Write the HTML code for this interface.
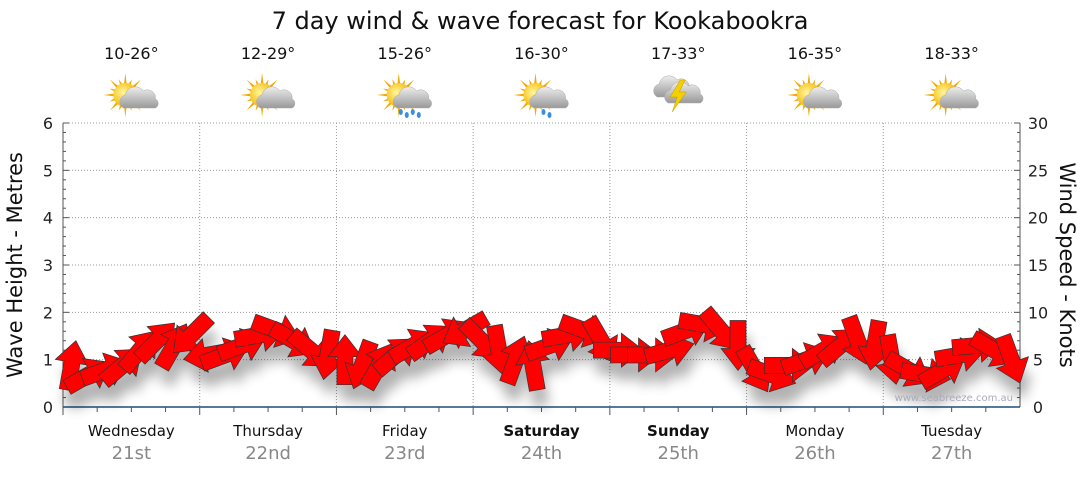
<!DOCTYPE html>
<html><head><meta charset="utf-8"><style>
body{margin:0;background:#fff;font-family:"Liberation Sans",sans-serif;}
svg text{font-family:"DejaVu Sans","Liberation Sans",sans-serif;}
</style></head><body>
<svg id="c" width="1080" height="475" xmlns="http://www.w3.org/2000/svg">
<defs>
<filter id="sh" x="-50%" y="-50%" width="200%" height="200%"><feGaussianBlur stdDeviation="6"/></filter>
<radialGradient id="sun" cx="0.4" cy="0.4" r="0.6"><stop offset="0" stop-color="#fff6a0"/><stop offset="1" stop-color="#f5b800"/></radialGradient>
<linearGradient id="cl" x1="0" y1="0" x2="0" y2="1"><stop offset="0" stop-color="#eee"/><stop offset="1" stop-color="#999"/></linearGradient>
</defs>
<text x="540" y="29" text-anchor="middle" font-size="24" fill="#111">7 day wind &amp; wave forecast for Kookabookra</text>
<g id="grid"></g><g id="axes"></g><g id="icons"></g>
<g id="shadows" filter="url(#sh)" opacity="0.3"></g><g id="arrows"></g>
<text x="1013" y="401" text-anchor="end" font-size="10" fill="#aab">www.seabreeze.com.au</text>
<text transform="translate(22,265) rotate(-90)" text-anchor="middle" font-size="21" fill="#111">Wave Height - Metres</text>
<text transform="translate(1060,265) rotate(90)" text-anchor="middle" font-size="21" fill="#111">Wind Speed - Knots</text>
</svg>
<script>
const days=["Wednesday","Thursday","Friday","Saturday","Sunday","Monday","Tuesday"];
const dates=["21st","22nd","23rd","24th","25th","26th","27th"];
const temps=["10-26°","12-29°","15-26°","16-30°","17-33°","16-35°","18-33°"];
const icons=["partly","partly","rain","partlyrain","storm","partly","partly"];
const waveTicks=[0,1,2,3,4,5,6];
const windTicks=[0,5,10,15,20,25,30];
const windSpeed=[4.4,3.4,3.9,4.4,6.0,7.0,6.5,7.6, 5.5,5.5,6.5,7.6,8.1,7.0,6.0,5.5, 5.0,4.4,4.4,5.5,6.5,7.0,7.6,8.1, 7.0,6.0,5.0,4.4,6.5,7.6,8.1,7.0, 6.0,5.5,5.5,6.0,8.1,8.7,8.1,6.5, 3.9,3.4,4.4,5.0,6.0,6.5,7.0,6.5, 5.0,3.9,3.4,3.9,5.5,6.5,6.0,5.0];
const windDir=[-80,-30,-20,-40,-50,-45,-60,135, 170,-20,-20,-10,20,30,40,100, -90,110,-60,-40,-30,-35,-30,150, 45,80,-70,-100,-20,-10,20,60, 0,0,0,-15,-20,10,50,90, 60,20,0,-20,-30,-40,70,100, 80,30,10,-30,-10,-5,30,70];
const X0=63,X1=1020,Y0=407,Y1=123,NS="http://www.w3.org/2000/svg";
const dayW=(X1-X0)/7;
const yWave=v=>Y0-(v/6)*(Y0-Y1), yWind=v=>Y0-(v/30)*(Y0-Y1);
const xIdx=i=>X0+(i+0.5)*dayW/8;
function mk(t,a,p){const e=document.createElementNS(NS,t);for(const k in a)e.setAttribute(k,a[k]);(p||document.getElementById('c')).appendChild(e);return e;}
const grid=document.getElementById('grid'),axes=document.getElementById('axes');
waveTicks.forEach(v=>{if(v>0){const l=mk('line',{x1:X0,x2:X1,y1:yWave(v),y2:yWave(v),stroke:'#999','stroke-dasharray':'1,2'},grid);

}
const t=mk('text',{x:48,y:yWave(v)+6,'text-anchor':'middle','font-size':16,fill:'#222'},axes);t.textContent=v;

});
windTicks.forEach(v=>{const t=mk('text',{x:1038,y:yWind(v)+6,'text-anchor':'middle','font-size':16,fill:'#222'},axes);t.textContent=v;

});
for(let i=0;i<=30;i++){const y=Y0-i*(Y0-Y1)/30,w=i%5==0?6:3;mk('line',{x1:X0,x2:X0+w,y1:y,y2:y,stroke:'#555'},axes);mk('line',{x1:X1,x2:X1-w,y1:y,y2:y,stroke:'#555'},axes);}
mk('line',{x1:X0,x2:X0,y1:Y1,y2:Y0,stroke:'#555'},axes);mk('line',{x1:X1,x2:X1,y1:Y1,y2:Y0,stroke:'#555'},axes);
mk('line',{x1:X0,x2:X1,y1:Y0,y2:Y0,stroke:'#1a4f7a','stroke-width':1.5},axes);
for(let d=0;d<=7;d++){const x=X0+d*dayW;if(d>0&&d<7)mk('line',{x1:x,x2:x,y1:Y1,y2:Y0,stroke:'#999','stroke-dasharray':'1,2'},grid);
for(let q=0;q<4&&d<7;q++)mk('line',{x1:x+q*dayW/4,x2:x+q*dayW/4,y1:Y0,y2:Y0+(q==0?8:5),stroke:'#555'},axes);}
const icg=document.getElementById('icons');
function sunIcon(g,cx,cy){for(let k=0;k<16;k++){const a=k*Math.PI/8,r=k%2?17:22;mk('polygon',{points:`${cx+Math.cos(a)*r},${cy+Math.sin(a)*r} ${cx+Math.cos(a+0.15)*10},${cy+Math.sin(a+0.15)*10} ${cx+Math.cos(a-0.15)*10},${cy+Math.sin(a-0.15)*10}`,fill:'#f2a900'},g);}mk('circle',{cx,cy,r:12,fill:'url(#sun)'},g);}
function cloud(g,cx,cy,s){mk('path',{d:`M${cx-16*s},${cy+9*s} a7,7 0 0 1 2,-13 a10,10 0 0 1 18,-4 a8,8 0 0 1 12,8 a5,5 0 0 1 0,9 z`,fill:'url(#cl)',stroke:'#aaa','stroke-width':0.5},g);}
days.forEach((d,i)=>{const cx=X0+(i+0.5)*dayW;
const dn=mk('text',{x:cx,y:436,'text-anchor':'middle','font-size':15,fill:'#111','font-weight':(i==3||i==4)?'bold':'normal'});dn.textContent=d;


const dt=mk('text',{x:cx,y:459,'text-anchor':'middle','font-size':18,fill:'#888'});dt.textContent=dates[i];


const tt=mk('text',{x:cx,y:59,'text-anchor':'middle','font-size':16,fill:'#111'});tt.textContent=temps[i];


const g=mk('g',{},icg);


if(icons[i]=='storm'){cloud(g,cx-5,88,1);cloud(g,cx+6,94,1);mk('polygon',{points:`${cx+2},80 ${cx-8},97 ${cx-1},97 ${cx-6},112 ${cx+8},92 ${cx+1},92 ${cx+7},80`,fill:'#f5d000',stroke:'#c90','stroke-width':0.5},g);}
else{sunIcon(g,cx-6,95);cloud(g,cx+8,99,1);
if(icons[i]=='rain'||icons[i]=='partlyrain'){const n=icons[i]=='rain'?4:2;for(let k=0;k<n;k++)mk('ellipse',{cx:cx+(k-n/2)*6+8,cy:112+(k%2)*3,rx:2,ry:3,fill:'#3a8de0'},g);}}
});
const ag=document.getElementById('arrows'),sg=document.getElementById('shadows');
const shape="M-25,-8 L3,-8 L3,-17 L25,0 L3,17 L3,8 L-25,8 Z";
windSpeed.forEach((v,i)=>{const x=xIdx(i),y=yWind(v),a=windDir[i];
mk('path',{d:shape,transform:`translate(${x+4},${y+16}) rotate(${a})`,fill:'#000'},sg);
const p=mk('path',{d:shape,transform:`translate(${x},${y}) rotate(${a})`,fill:'#ff0000',stroke:'#333','stroke-width':0.7},ag);

});
</script>
</body></html>
